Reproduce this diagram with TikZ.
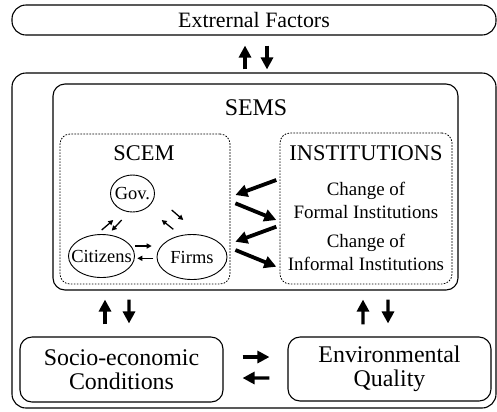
\documentclass[tikz,border=0pt]{standalone}
\usepackage{fontspec}
\setmainfont{Liberation Serif}
\usetikzlibrary{arrows.meta,shapes.geometric}

\begin{document}
\begin{tikzpicture}[x=1bp, y=-1bp,
		box/.style={draw, line width=1.1bp, rounded corners=12bp, inner sep=0pt},
		dotbox/.style={draw, line width=0.8bp, dash pattern=on 1.6bp off 1.4bp, rounded corners=10bp, inner sep=0pt},
		actor/.style={draw, ellipse, line width=0.9bp, inner sep=0pt, label={[font=\fontsize{18.5}{20}\selectfont]center:#1}},
		bigarr/.style={line width=3.2bp, -{Triangle[length=12bp,width=12bp]}},
		widearr/.style={line width=3.8bp, -{Triangle[length=12bp,width=12bp]}},
		smallarr/.style={line width=1.3bp, -{Triangle[length=5bp,width=5bp]}}]
		\useasboundingbox (0,0) rectangle (497,411);

		\node[box, rounded corners=14bp, minimum width=484bp, minimum height=30bp, font=\fontsize{22}{24}\selectfont] (ext) at (254,20) {Extrernal Factors};
		\node[box, rounded corners=14bp, minimum width=484bp, minimum height=335bp] (outer) at (254,240.5) {};
		\node[box, minimum width=405bp, minimum height=206bp] (sems) at (255.5,187) {};
		\node[font=\fontsize{24}{26}\selectfont] (semslabel) at (256,108) {SEMS};

		\node[dotbox, minimum width=170bp, minimum height=150bp] (scem) at (145,209) {};
		\node[dotbox, minimum width=172bp, minimum height=151bp] (inst) at (366,208.5) {};
		\node[font=\fontsize{22.5}{24}\selectfont] (scemlabel) at (144,153) {SCEM};
		\node[font=\fontsize{22.5}{24}\selectfont] (instlabel) at (366,153) {INSTITUTIONS};
		\node[align=center, font=\fontsize{19}{23}\selectfont] (formal) at (366,200) {Change of\\Formal Institutions};
		\node[align=center, font=\fontsize{19}{23}\selectfont] (informal) at (366,252) {Change of\\Informal Institutions};

		\node[actor=Gov., minimum width=44bp, minimum height=37bp] (gov) at (132.5,193.5) {};
		\node[actor=Citizens, minimum width=66bp, minimum height=43bp] (cit) at (101.5,256) {};
		\node[actor=Firms, minimum width=70bp, minimum height=45bp] (firms) at (192,257) {};

		\node[box, minimum width=203bp, minimum height=65bp, align=center, font=\fontsize{24}{24}\selectfont] (socio) at (121.5,369.5) {Socio-economic\\Conditions};
		\node[box, minimum width=203bp, minimum height=64bp, align=center, font=\fontsize{24}{24}\selectfont] (env) at (389.5,369) {Environmental\\Quality};

		\draw[bigarr, shorten <=3bp, shorten >=10bp] ([shift={(-9,0)}]outer.north) -- ([shift={(-9,0)}]ext.south);
		\draw[bigarr, shorten <=10bp, shorten >=3bp] ([shift={(13,0)}]ext.south) -- ([shift={(13,0)}]outer.north);

		\draw[smallarr] ([shift={(0.2,-26)}]cit.center) -- ([shift={(-19.2,26.5)}]gov.center);
		\draw[smallarr] ([shift={(-10.8,26.5)}]gov.center) -- ([shift={(10.2,-25.3)}]cit.center);
		\draw[smallarr] ([shift={(39.2,16.5)}]gov.center) -- ([shift={(-8.7,-37)}]firms.center);
		\draw[smallarr] ([shift={(-18.7,-27.7)}]firms.center) -- ([shift={(29.2,26.5)}]gov.center);
		\draw[smallarr] ([shift={(33.5,-10)}]cit.center) -- ([shift={(-40.3,-11)}]firms.center);
		\draw[smallarr] ([shift={(-38.7,1.3)}]firms.center) -- ([shift={(35.8,2.3)}]cit.center);

		\draw[widearr] ([shift={(-3.3,-28.5)}]inst.west) -- ([shift={(5,-14)}]scem.east);
		\draw[widearr] ([shift={(5,-5.7)}]scem.east) -- ([shift={(-3.3,11.5)}]inst.west);
		\draw[widearr] ([shift={(-3.3,18.2)}]inst.west) -- ([shift={(5,32.7)}]scem.east);
		\draw[widearr] ([shift={(5,41)}]scem.east) -- ([shift={(-3.3,58.2)}]inst.west);

		\draw[bigarr, shorten <=12bp, shorten >=9bp] ([shift={(-16.5,0)}]socio.north) -- ([shift={(-150.5,0)}]sems.south);
		\draw[bigarr, shorten <=9bp, shorten >=13bp] ([shift={(-126.5,0)}]sems.south) -- ([shift={(7.5,0)}]socio.north);
		\draw[bigarr, shorten <=12bp, shorten >=9bp] ([shift={(-26.5,0)}]env.north) -- ([shift={(107.5,0)}]sems.south);
		\draw[bigarr, shorten <=9bp, shorten >=13bp] ([shift={(132.5,0)}]sems.south) -- ([shift={(-1.5,0)}]env.north);

		\draw[bigarr, shorten <=19bp, shorten >=18bp] ([shift={(0,-12.5)}]socio.east) -- ([shift={(0,-12)}]env.west);
		\draw[bigarr, shorten <=18bp, shorten >=19bp] ([shift={(0,9)}]env.west) -- ([shift={(0,8.5)}]socio.east);
	\end{tikzpicture}
\end{document}
